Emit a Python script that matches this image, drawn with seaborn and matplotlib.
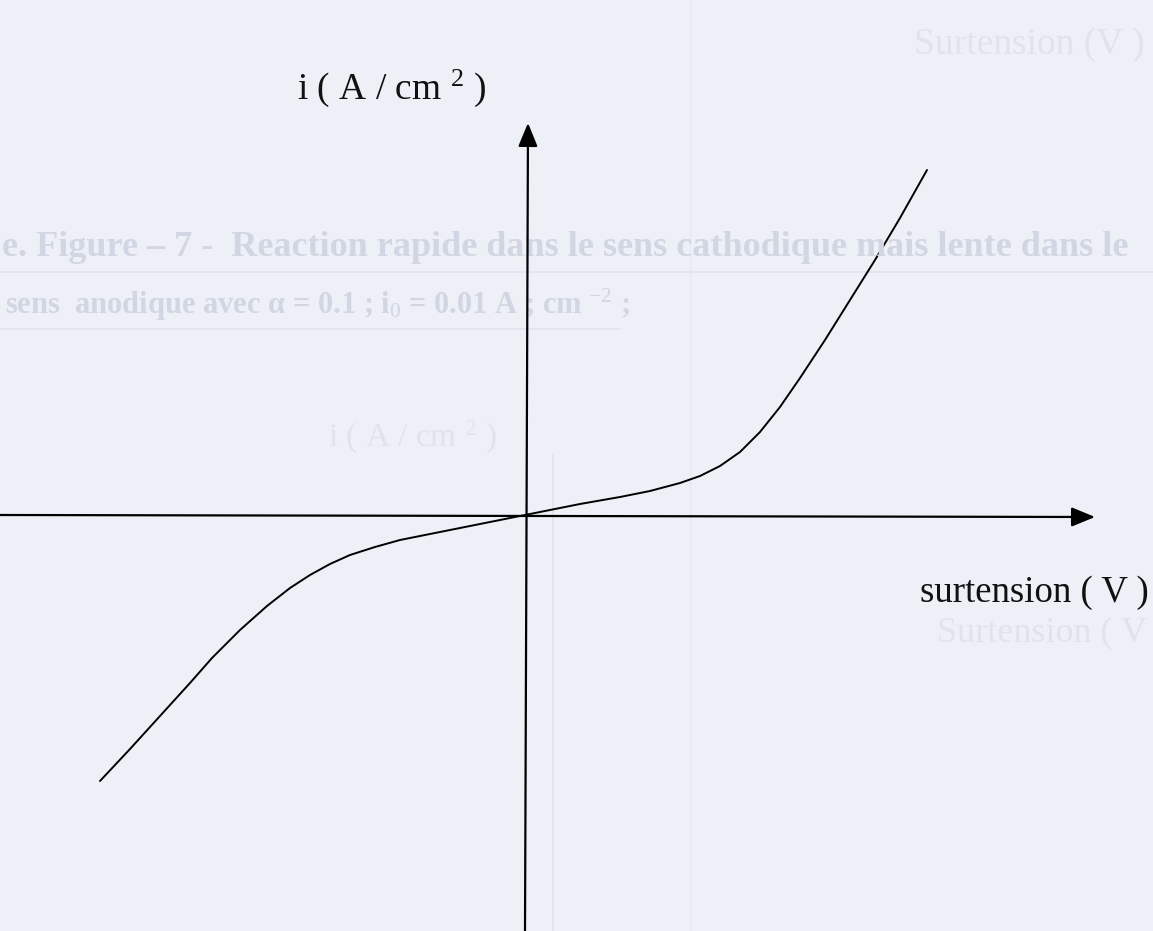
import matplotlib
matplotlib.use("Agg")
import matplotlib.pyplot as plt
import seaborn as sns
import pandas as pd

# Overpotential (V) and current density (A/cm^2) along the polarisation curve
surtension = [-4.25, -3.95, -3.65, -3.35, -3.13, -2.85, -2.58, -2.35, -2.15, -1.95,
              -1.75, -1.50, -1.25, -0.95, -0.65, -0.35, 0.0,
              0.25, 0.55, 0.95, 1.25, 1.55, 1.75, 1.95, 2.15, 2.35, 2.55,
              2.75, 3.00, 3.25, 3.50, 3.75, 4.02]
densite = [-2.66, -2.34, -2.01, -1.68, -1.43, -1.15, -0.91, -0.73, -0.60, -0.49,
           -0.40, -0.32, -0.25, -0.19, -0.13, -0.07, 0.0,
           0.05, 0.11, 0.18, 0.24, 0.32, 0.39, 0.49, 0.63, 0.83, 1.08,
           1.37, 1.75, 2.15, 2.55, 2.97, 3.45]

label_y = "i ( A / cm $^{2}$ )"
label_x = "surtension ( V )"

sns.set_theme(style="white")
plt.rcParams["font.family"] = ["Liberation Serif", "DejaVu Serif"]
plt.rcParams["mathtext.fontset"] = "custom"
plt.rcParams["mathtext.rm"] = "Liberation Serif"
plt.rcParams["mathtext.it"] = "Liberation Serif:italic"
plt.rcParams["mathtext.bf"] = "Liberation Serif:bold"

paper = "#eef0f8"
fig = plt.figure(figsize=(11.53, 9.31), dpi=100, facecolor=paper)
ax = fig.add_axes([0, 0, 1, 1])
ax.set_facecolor(paper)
ax.set_xlim(-5.25, 6.28)
ax.set_ylim(-4.16, 5.15)
ax.axis("off")

# faint show-through from the reverse side of the sheet
ghost = "#d2d6e2"
ghost2 = "#e0e3ee"
ax.plot([1.65, 1.65], [-4.16, 5.15], color="#e6e9f3", lw=1.0)
ax.text(6.20, 4.70, "Surtension (V )", fontsize=27, color=ghost2, ha="right", va="center")
ax.text(-5.23, 2.67, "e. Figure \u2013 7 -  Reaction rapide dans le sens cathodique mais lente dans le",
        fontsize=26, color=ghost, ha="left", va="center", fontweight="bold")
ax.text(-5.20, 2.10, "sens  anodique avec \u03b1 = 0.1 ; i$_0$ = 0.01 A ; cm $^{-2}$ ;",
        fontsize=22, color=ghost, ha="left", va="center", fontweight="bold")
ax.plot([-5.25, 6.28], [2.43, 2.43], color=ghost2, lw=1.2)
ax.plot([-5.25, 0.95], [1.86, 1.86], color=ghost2, lw=1.2)
ax.text(-1.13, 0.78, "i ( A / cm $^{2}$ )", fontsize=24, color=ghost2, ha="center", va="center")
ax.plot([0.28, 0.28], [-4.16, 0.60], color=ghost2, lw=1.2)
ax.text(6.22, -1.18, "Surtension ( V", fontsize=26, color=ghost2, ha="right", va="center")

# coordinate axes with arrow heads
arrow = dict(arrowstyle="-|>,head_length=0.8,head_width=0.33", color="black",
             lw=1.6, mutation_scale=18, shrinkA=0, shrinkB=0)
ax.annotate("", xy=(5.70, -0.02), xytext=(-5.25, 0.0), arrowprops=arrow)
ax.annotate("", xy=(0.03, 3.92), xytext=(0.0, -4.16), arrowprops=arrow)

sns.lineplot(data=pd.DataFrame({"eta": surtension, "i": densite}), x="eta", y="i",
             ax=ax, color="black", lw=1.4, sort=False, estimator=None)

ax.text(-2.28, 4.27, label_y, fontsize=27, color="#111111", ha="left", va="center")
ax.text(3.95, -0.78, label_x, fontsize=26.5, color="#111111", ha="left", va="center")

fig.savefig("out.png", dpi=100, facecolor=paper)
